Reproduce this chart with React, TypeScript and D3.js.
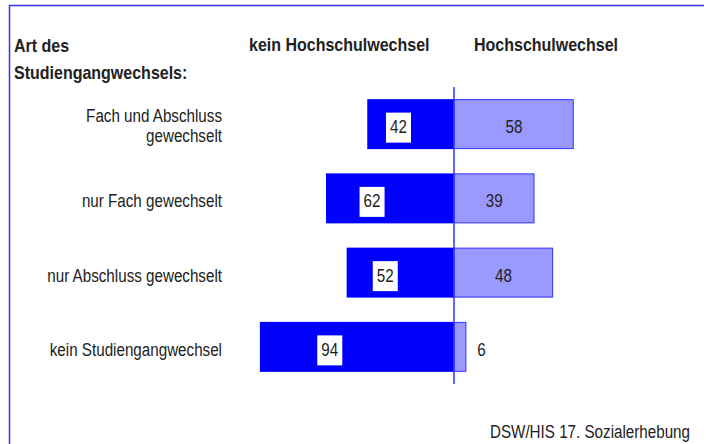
import { useMemo } from "react";
import * as d3 from "d3";

const categories = [
  "Fach und Abschluss gewechselt",
  "nur Fach gewechselt",
  "nur Abschluss gewechselt",
  "kein Studiengangwechsel",
];
const categoryLines = [
  ["Fach und Abschluss", "gewechselt"],
  ["nur Fach gewechselt"],
  ["nur Abschluss gewechselt"],
  ["kein Studiengangwechsel"],
];
const keinHochschulwechsel = [42, 62, 52, 94];
const hochschulwechsel = [58, 39, 48, 6];
const seriesLabels = ["kein Hochschulwechsel", "Hochschulwechsel"];
const titleLines = ["Art des", "Studiengangwechsels:"];
const source = "DSW/HIS 17. Sozialerhebung";

const W = 706;
const H = 444;
const FONT = "'Liberation Sans', Arial, sans-serif";
const DARK = "#0000ff";
const LIGHT = "#9999ff";
const EDGE = "#3333ff";
const INK = "#222";

// no narrow font installed: squeeze Arial-metric text horizontally
function NText({ x, y, anchor = "start", size = 19, sx = 0.8, weight = "normal", children }: any) {
  return (
    <text
      transform={`translate(${x},${y}) scale(${sx},1)`}
      textAnchor={anchor}
      fontFamily={FONT}
      fontSize={size}
      fontWeight={weight}
      fill={INK}
    >
      {children}
    </text>
  );
}

export default function App() {
  const x = useMemo(() => d3.scaleLinear().domain([-100, 100]).range([454 - 206.5, 454 + 206.5]), []);
  const y = useMemo(
    () => d3.scaleBand<string>().domain(categories).range([87, 384]).paddingInner(0.327).paddingOuter(0.1635),
    []
  );
  const bw = y.bandwidth();

  return (
    <div style={{ position: "absolute", left: 0, top: 0, width: W, height: H, background: "#fff" }}>
      <svg width={W} height={H} style={{ display: "block" }}>
        {/* frame, cut at right and bottom */}
        <line x1={9.5} x2={9.5} y1={5} y2={H} stroke={EDGE} strokeWidth={1.5} />
        <line x1={9} x2={704} y1={5.5} y2={5.5} stroke={EDGE} strokeWidth={1.5} />

        <NText x={14} y={52} size={18} sx={0.89} weight="bold">{titleLines[0]}</NText>
        <NText x={14} y={79} size={18} sx={0.89} weight="bold">{titleLines[1]}</NText>
        <NText x={249} y={51} size={18} sx={0.89} weight="bold">{seriesLabels[0]}</NText>
        <NText x={474} y={51} size={18} sx={0.89} weight="bold">{seriesLabels[1]}</NText>

        {categories.map((c, i) => {
          const cy = y(c)! + bw / 2;
          const lines = categoryLines[i];
          const v0 = keinHochschulwechsel[i];
          const v1 = hochschulwechsel[i];
          const bx = x(-v0 * 0.64);
          const inside = x(v1) - x(0) > 30;
          return (
            <g key={c}>
              {lines.map((l, j) => (
                <NText key={l} x={222} y={lines.length > 1 ? cy - 2 + j * 19.5 : cy + 9} anchor="end">
                  {l}
                </NText>
              ))}
              <rect x={x(-v0)} y={y(c)} width={x(0) - x(-v0)} height={bw} fill={DARK} />
              <rect
                x={x(0)}
                y={y(c)! + 0.5}
                width={x(v1) - x(0) - 0.5}
                height={bw - 1}
                fill={LIGHT}
                stroke={EDGE}
                strokeWidth={1}
              />
              <rect x={bx - 12.5} y={cy - 11.5} width={25} height={30} fill="#fff" />
              <NText x={bx} y={cy + 9} anchor="middle">{v0}</NText>
              <NText x={inside ? (x(0) + x(v1)) / 2 : x(v1) + 15} y={cy + 9} anchor="middle">
                {v1}
              </NText>
            </g>
          );
        })}

        <line x1={x(0)} x2={x(0)} y1={87} y2={384} stroke={EDGE} strokeWidth={1.5} />

        <NText x={690} y={438} anchor="end">{source}</NText>
      </svg>
    </div>
  );
}
